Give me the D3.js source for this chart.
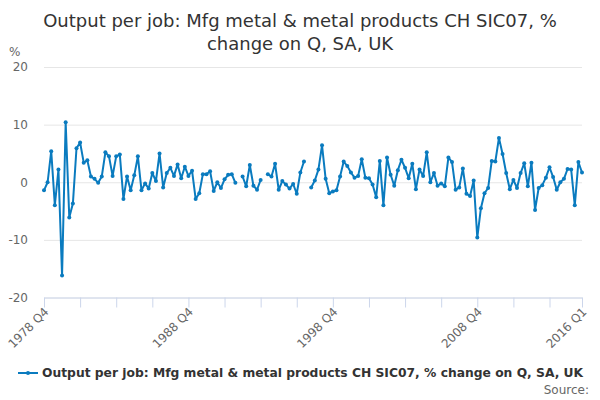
<!DOCTYPE html>
<html>
<head>
<meta charset="utf-8">
<script src="https://cdn.jsdelivr.net/npm/d3@7"></script>
<style>
  body { margin: 0; background: #fff; }
  text { font-family: "DejaVu Sans", sans-serif; }
</style>
</head>
<body>
<svg id="chart"></svg>
<script>
const width = 600;
const height = 400;

// quarterly series, 1978 Q4 .. 2016 Q1 (null = no value)
const values = [
  -1.4, 0, 5.4, -4.0, 2.2, -16.2, 10.4, -6.1, -3.7, 5.9,
  6.9, 3.4, 3.8, 1.0, 0.6, -0.1, 1.0, 5.2, 4.5, 1.1,
  4.5, 4.8, -2.9, 1.0, -1.4, 1.2, 4.5, -1.4, -0.2, -1.1,
  1.6, 0.2, 5.0, -0.9, 1.6, 2.5, 1.1, 3.1, 0.7, 2.7,
  1.1, 2.0, -2.9, -1.9, 1.4, 1.4, 1.9, -1.5, 0, -1.0,
  0.5, 1.3, 1.4, -0.1, null, 1.0, -0.7, 3.0, -0.6, -1.3,
  0.4, null, 1.4, 1.0, 3.2, -1.3, 0.2, -0.4, -1.1, -0.3,
  -2.0, 1.7, 3.6, null, -0.9, 0.3, 2.2, 6.4, 0.6, -1.9,
  -1.6, -1.4, 1.0, 3.6, 2.8, 1.7, 0.8, 1.1, 4.0, 0.8,
  0.7, -0.4, -2.6, 3.7, -4.0, 4.3, 1.3, -0.6, 2.1, 3.9,
  2.5, 0.7, 3.2, -1.2, 2.2, 1.1, 5.2, 0, 1.6, -0.6,
  -0.2, -0.7, 4.3, 3.5, -1.3, -0.9, 2.4, -2.0, -2.4, 0.3,
  -9.6, -4.5, -1.9, -1.0, 3.7, 3.6, 7.7, 4.9, 1.6, -1.2,
  0.4, -1.0, 1.6, 3.3, -0.7, 3.4, -4.8, -1.0, -0.5, 0.8,
  2.6, 0.9, -1.3, 0, 0.6, 2.3, 2.2, -4.0, 3.5, 1.7
];

const startYear = 1978;
const startQuarter = 4;
const quarters = values.map((v, i) => {
  const q = startQuarter - 1 + i;
  return (startYear + Math.floor(q / 4)) + " Q" + (q % 4 + 1);
});

const tickLabels = ["1978 Q4", "1988 Q4", "1998 Q4", "2008 Q4", "2016 Q1"];
const yTicks = [-20, -10, 0, 10, 20];

const title = ["Output per job: Mfg metal & metal products CH SIC07, %", "change on Q, SA, UK"];
const seriesName = "Output per job: Mfg metal & metal products CH SIC07, % change on Q, SA, UK";
const lineColor = "#0a7bbf";

const svg = d3.select("#chart")
    .attr("width", width)
    .attr("height", height);

const x = d3.scalePoint()
    .domain(quarters)
    .range([44, 582]);

const y = d3.scaleLinear()
    .domain([-20, 20])
    .range([297.5, 67]);

// title
svg.append("g")
    .selectAll("text")
    .data(title)
    .enter().append("text")
    .attr("x", width / 2)
    .attr("y", (d, i) => 27 + i * 23)
    .attr("text-anchor", "middle")
    .attr("font-size", 18)
    .attr("fill", "#333333")
    .text(d => d);

// gridlines + y labels
const yAxis = svg.append("g")
    .attr("transform", "translate(44,0)")
    .call(d3.axisLeft(y).tickValues(yTicks).tickSize(-538).tickPadding(16).tickFormat(d => String(d)));
yAxis.select(".domain").remove();
yAxis.selectAll(".tick line").attr("stroke", "#e6e6e6");
yAxis.selectAll(".tick text")
    .attr("fill", "#666666")
    .attr("font-size", 12)
    .attr("font-family", "DejaVu Sans, sans-serif");

svg.append("text")
    .attr("x", 9)
    .attr("y", 56)
    .attr("font-size", 12)
    .attr("fill", "#666666")
    .text("%");

// x axis
const tickQuarters = quarters.filter((q, i) => i % 10 === 0 || i === quarters.length - 1);
const xAxis = svg.append("g")
    .attr("transform", `translate(0,${y(-20)})`)
    .call(d3.axisBottom(x)
        .tickValues(tickQuarters)
        .tickSize(10)
        .tickSizeOuter(0)
        .tickFormat(d => tickLabels.includes(d) ? d : ""));
xAxis.select(".domain").attr("stroke", "#ccd6eb");
xAxis.selectAll(".tick line").attr("stroke", "#ccd6eb");
xAxis.selectAll(".tick text")
    .attr("fill", "#666666")
    .attr("font-size", 12)
    .attr("font-family", "DejaVu Sans, sans-serif")
    .attr("text-anchor", "end")
    .attr("dy", null)
    .attr("y", 0)
    .attr("transform", "translate(5,15) rotate(-45)");

// line with gaps
const line = d3.line()
    .defined(d => d.v !== null)
    .x(d => x(d.q))
    .y(d => y(d.v));

const data = values.map((v, i) => ({ q: quarters[i], v: v }));

svg.append("path")
    .datum(data)
    .attr("fill", "none")
    .attr("stroke", lineColor)
    .attr("stroke-width", 2)
    .attr("stroke-linejoin", "round")
    .attr("d", line);

svg.append("g")
    .selectAll("circle")
    .data(data.filter(d => d.v !== null))
    .enter().append("circle")
    .attr("cx", d => x(d.q))
    .attr("cy", d => y(d.v))
    .attr("r", 2)
    .attr("fill", lineColor);

// legend
const legend = svg.append("g").attr("transform", "translate(0,373)");
legend.append("line")
    .attr("x1", 18).attr("x2", 38)
    .attr("y1", 0).attr("y2", 0)
    .attr("stroke", lineColor)
    .attr("stroke-width", 2);
legend.append("circle")
    .attr("cx", 28).attr("cy", 0).attr("r", 2)
    .attr("fill", lineColor);
legend.append("text")
    .attr("x", 42)
    .attr("y", 4)
    .attr("font-size", 12.3)
    .attr("font-weight", "bold")
    .attr("fill", "#333333")
    .text(seriesName);

svg.append("text")
    .attr("x", 589)
    .attr("y", 394)
    .attr("text-anchor", "end")
    .attr("font-size", 12)
    .attr("fill", "#666666")
    .text("Source:");
</script>
</body>
</html>
